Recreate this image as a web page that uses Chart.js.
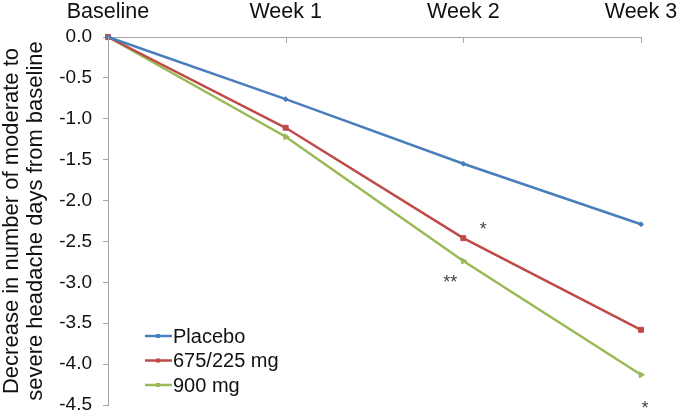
<!DOCTYPE html>
<html>
<head>
<meta charset="utf-8">
<script src="https://cdn.jsdelivr.net/npm/chart.js@4"></script>
<style>
  html, body { margin: 0; padding: 0; background: #fff; }
  #wrap { width: 680px; height: 413px; }
</style>
</head>
<body>
<div id="wrap"><canvas id="chart"></canvas></div>
<script>
// categories and series
const weeks = ["Baseline", "Week 1", "Week 2", "Week 3"];
const seriesNames = ["Placebo", "675/225 mg", "900 mg"];
const placebo = [0, -0.76, -1.55, -2.29];
const dose675 = [0, -1.11, -2.46, -3.58];
const dose900 = [0, -1.22, -2.74, -4.13];

// significance marks: series index, point index, text
const markSeries = [1, 2, 2];
const markIndex = [2, 2, 3];
const markText = ["*", "**", "*"];

const FONT = "'Liberation Sans', Arial, sans-serif";
const axisGray = "#A6A6A6";
const colors = ["#4A7EBB", "#BE4B48", "#98B954"];
const pointStyles = ["rectRot", "rect", "triangle"];

//tick marks on the top axis point down into the plot
const topTicks = {
  id: "topTicks",
  afterDraw(chart) {
    const ctx = chart.ctx, xs = chart.scales.x;
    ctx.save();
    ctx.strokeStyle = axisGray;
    ctx.lineWidth = 1;
    xs.ticks.forEach((t, i) => {
      const x = Math.round(xs.getPixelForTick(i)) + 0.5;
      ctx.beginPath();
      ctx.moveTo(x, xs.bottom);
      ctx.lineTo(x, xs.bottom + 6);
      ctx.stroke();
    });
    ctx.restore();
  }
};

// legend sits inside the plot, bottom left
const innerLegend = {
  id: "innerLegend",
  afterDraw(chart) {
    const ctx = chart.ctx, area = chart.chartArea;
    ctx.save();
    ctx.font = "20px " + FONT;
    ctx.textBaseline = "middle";
    chart.data.datasets.forEach((ds, i) => {
      const y = area.bottom - 69 + i * 24.5;
      const x0 = area.left + 37;
      ctx.strokeStyle = ds.borderColor;
      ctx.lineWidth = 2.5;
      ctx.beginPath();
      ctx.moveTo(x0, y);
      ctx.lineTo(x0 + 27, y);
      ctx.stroke();
      ctx.fillStyle = ds.borderColor;
      ctx.fillRect(x0 + 11, y - 2, 4, 4);
      ctx.fillStyle = "#111";
      ctx.fillText(ds.label, x0 + 28, y + 1);
    });
    ctx.restore();
  }
};

// asterisks next to the significant points
const offsets = [[20, -12], [-13, 18], [4, 30]];
const stars = {
  id: "stars",
  afterDraw(chart) {
    const ctx = chart.ctx;
    ctx.save();
    ctx.font = "18px " + FONT;
    ctx.fillStyle = "#444";
    ctx.textAlign = "center";
    ctx.textBaseline = "middle";
    markText.forEach((txt, k) => {
      const pt = chart.getDatasetMeta(markSeries[k]).data[markIndex[k]];
      ctx.fillText(txt, pt.x + offsets[k][0], pt.y + offsets[k][1] + 4);
    });
    ctx.restore();
  }
};

const values = [placebo, dose675, dose900];
const datasets = values.map((v, i) => ({
  label: seriesNames[i],
  data: v,
  borderColor: colors[i],
  backgroundColor: colors[i],
  borderWidth: 2.5,
  pointStyle: pointStyles[i],
  pointRadius: i === 0 ? 2.5 : 3.5,
  pointRotation: i === 2 ? 90 : 0,
  pointBorderWidth: 1,
  tension: 0,
  clip: false
}));

new Chart(document.getElementById("chart"), {
  type: "line",
  data: { labels: weeks, datasets: datasets },
  plugins: [topTicks, innerLegend, stars],
  options: {
    responsive: true,
    maintainAspectRatio: false,
    animation: false,
    layout: { padding: { left: 0, right: 39, top: 0, bottom: 8 } },
    plugins: {
      legend: { display: false },
      tooltip: { enabled: false }
    },
    scales: {
      x: {
        position: "top",
        offset: false,
        afterFit: (s) => { s.height = 37; s.paddingLeft = 0; s.paddingRight = 0; },
        grid: { display: true, drawOnChartArea: false, drawTicks: false },
        border: { display: true, color: axisGray, width: 1 },
        ticks: { color: "#111", padding: 12, maxRotation: 0, font: { family: FONT, size: 21.5 } }
      },
      y: {
        min: -4.5,
        max: 0,
        afterFit: (s) => { s.width = 108; s.paddingTop = 0; s.paddingBottom = 0; },
        grid: { display: true, drawOnChartArea: false, drawTicks: true, tickLength: 5, color: axisGray },
        border: { display: true, color: axisGray, width: 1 },
        ticks: {
          stepSize: 0.5,
          padding: 11,
          color: "#111",
          font: { family: FONT, size: 19 },
          callback: (v) => v.toFixed(1)
        },
        title: {
          display: true,
          text: ["Decrease in number of moderate to", "severe headache days from baseline"],
          color: "#111",
          padding: 0,
          font: { family: FONT, size: 22, lineHeight: 1.1 }
        }
      }
    }
  }
});
</script>
</body>
</html>
